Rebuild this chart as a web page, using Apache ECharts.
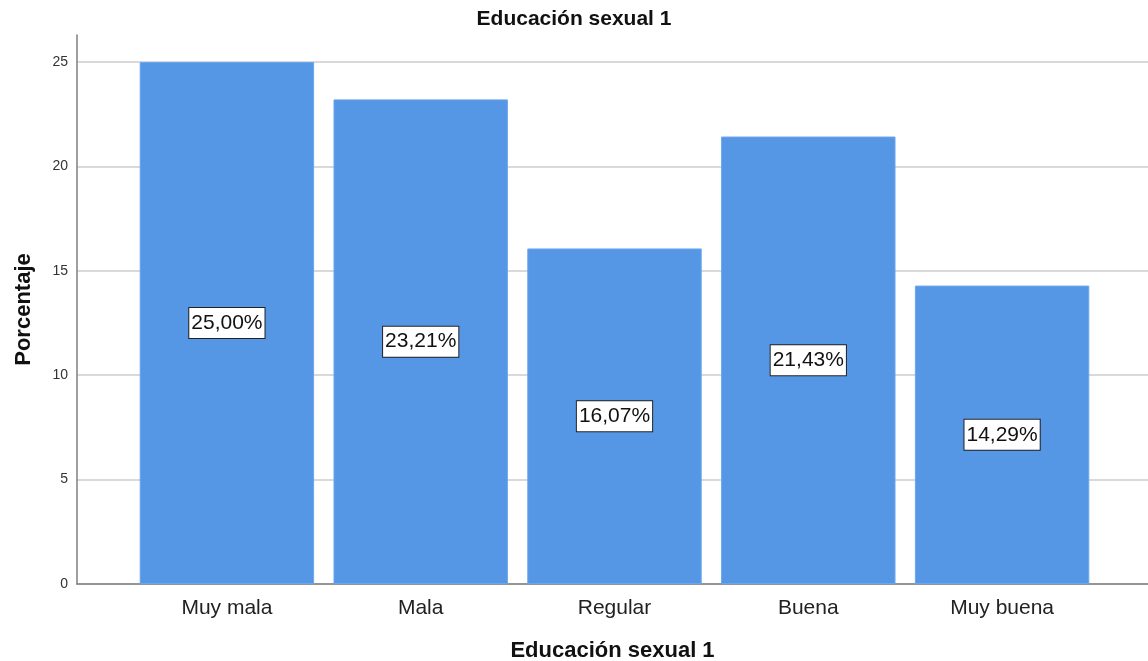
<!DOCTYPE html>
<html>
<head>
<meta charset="utf-8">
<script src="https://cdn.jsdelivr.net/npm/echarts@6/dist/echarts.min.js"></script>
<style>html,body{margin:0;padding:0;background:#fff}#c{width:1148px;height:661px}</style>
</head>
<body>
<div id="c"></div>
<script>
const categories = ['Muy mala', 'Mala', 'Regular', 'Buena', 'Muy buena'];
const percentages = [25.00, 23.21, 16.07, 21.43, 14.29];
const yTicks = [0, 5, 10, 15, 20, 25];
const titleText = 'Educación sexual 1';
const xAxisTitle = 'Educación sexual 1';
const yAxisTitle = 'Porcentaje';

const FONT = 'Arial, "Liberation Sans", Helvetica, sans-serif';
const chart = echarts.init(document.getElementById('c'));
chart.setOption({
  animation: false,
  backgroundColor: '#ffffff',
  textStyle: { fontFamily: FONT },
  title: {
    text: titleText, left: 'center', top: 4,
    textStyle: { fontFamily: FONT, fontSize: 21, fontWeight: 'bold', color: '#111' }
  },
  grid: [
    { left: 77, right: 0, top: 35, bottom: 77, containLabel: false, outerBoundsMode: 'none' },
    { left: 77, right: 0, top: 62, bottom: 77, containLabel: false, outerBoundsMode: 'none' },
    { left: 130, right: 49, top: 62, bottom: 77, containLabel: false, outerBoundsMode: 'none' }
  ],
  xAxis: [
    { gridIndex: 0, type: 'value', min: 0, max: 1,
      axisLine: { show: false }, axisTick: { show: false }, axisLabel: { show: false }, splitLine: { show: false },
      name: xAxisTitle, nameLocation: 'middle', nameGap: 56,
      nameTextStyle: { fontFamily: FONT, fontSize: 22, fontWeight: 'bold', color: '#111' } },
    { gridIndex: 1, type: 'value', min: 0, max: 1,
      axisLine: { show: true, onZero: false, lineStyle: { color: '#7f7f7f', width: 1.5 } },
      axisTick: { show: false }, axisLabel: { show: false }, splitLine: { show: false } },
    { gridIndex: 2, type: 'category', data: categories,
      axisLine: { show: false }, axisTick: { show: false },
      axisLabel: { fontFamily: FONT, fontSize: 21, color: '#222', margin: 14 } }
  ],
  yAxis: [
    { gridIndex: 0, type: 'value', min: 0, max: 26.3,
      axisLine: { show: true, lineStyle: { color: '#7f7f7f', width: 1.5 } },
      axisTick: { show: false }, axisLabel: { show: false }, splitLine: { show: false },
      name: yAxisTitle, nameLocation: 'middle', nameGap: 42, nameRotate: 90,
      nameTextStyle: { fontFamily: FONT, fontSize: 22, fontWeight: 'bold', color: '#111' } },
    { gridIndex: 1, type: 'value', min: yTicks[0], max: yTicks[yTicks.length - 1], interval: 5,
      axisLine: { show: false }, axisTick: { show: false },
      axisLabel: { fontFamily: FONT, fontSize: 14, color: '#333', margin: 9 },
      splitLine: { show: true, lineStyle: { color: '#d9d9d9', width: 2 } } },
    { gridIndex: 2, type: 'value', min: yTicks[0], max: yTicks[yTicks.length - 1], show: false }
  ],
  series: [{
    type: 'bar', xAxisIndex: 2, yAxisIndex: 2,
    data: percentages, barWidth: '90%',
    itemStyle: { color: '#5596e5', borderColor: '#6aa6ee', borderWidth: 1 },
    label: {
      show: true, position: 'inside',
      formatter: p => p.value.toFixed(2).replace('.', ',') + '%',
      fontFamily: FONT, fontSize: 21, color: '#111',
      backgroundColor: '#ffffff', borderColor: '#222', borderWidth: 1,
      padding: [5, 2, 4, 2]
    }
  }]
});
</script>
</body>
</html>
